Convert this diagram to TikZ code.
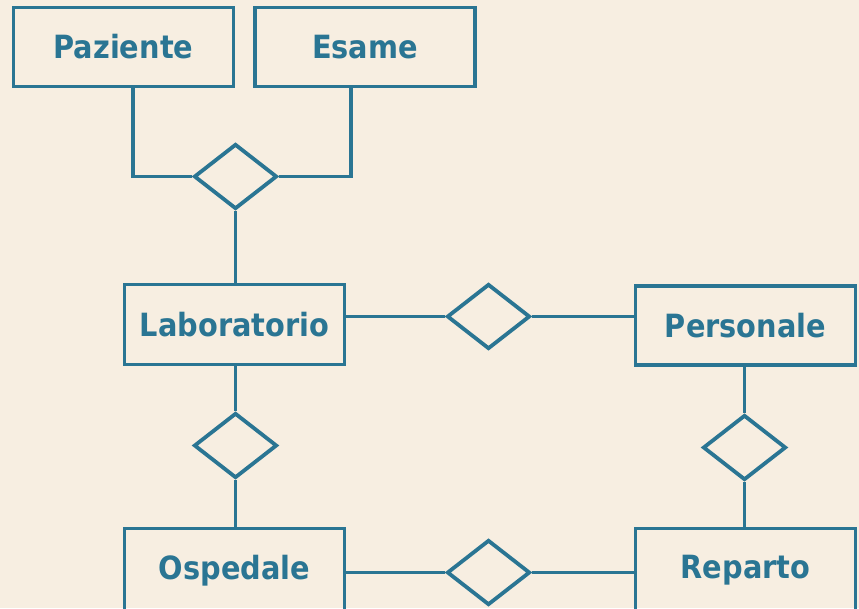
\documentclass[tikz,border=0pt]{standalone}
\usepackage{fontspec}
\setmainfont{DejaVu Sans Condensed}
\usetikzlibrary{shapes.geometric}
\definecolor{bgc}{HTML}{F7EEE1}
\definecolor{erc}{HTML}{2A7593}
\begin{document}
\begin{tikzpicture}[x=1pt,y=-1pt,
  entity/.style={draw=erc,line width=3.8pt,rectangle,minimum width=220pt,minimum height=79pt,
    inner sep=0pt,text=erc,font=\fontsize{32}{38}\selectfont\bfseries},
  rel/.style={draw=erc,line width=3.8pt,diamond,minimum width=83pt,minimum height=65pt,inner sep=0pt},
  conn/.style={draw=erc,line width=3.8pt}]
\fill[bgc] (0,0) rectangle (859,608);
\useasboundingbox (0,0) rectangle (859,608);
\begin{scope}
\clip (0,0) rectangle (859,608);
\node[entity] (paz) at (123.5,47) {Paziente};
\node[entity] (esa) at (365,47) {Esame};
\node[entity,minimum height=80pt] (lab) at (234.5,324.5) {Laboratorio};
\node[entity] (per) at (745.5,325.5) {Personale};
\node[entity,minimum height=84pt] (osp) at (234.5,570.5) {Ospedale};
\node[entity,minimum height=84pt] (rep) at (745.5,570.5) {Reparto};
\node[rel] (d1) at (235.5,176.5) {};
\node[rel] (d2) at (488.5,316.5) {};
\node[rel] (d3) at (235.5,445.5) {};
\node[rel] (d4) at (744.5,447.5) {};
\node[rel] (d5) at (488.5,572.5) {};
\draw[conn] ([xshift=9.5pt]paz.south) |- (d1.west);
\draw[conn] ([xshift=-14pt]esa.south) |- (d1.east);
\draw[conn] (d1.south) -- (d1.south |- lab.north);
\draw[conn] (d2.west) -- (d2.west -| lab.east);
\draw[conn] (d2.east) -- (d2.east -| per.west);
\draw[conn] (d3.north) -- (d3.north |- lab.south);
\draw[conn] (d3.south) -- (d3.south |- osp.north);
\draw[conn] (d4.north) -- (d4.north |- per.south);
\draw[conn] (d4.south) -- (d4.south |- rep.north);
\draw[conn] (d5.west) -- (d5.west -| osp.east);
\draw[conn] (d5.east) -- (d5.east -| rep.west);
\end{scope}
\end{tikzpicture}
\end{document}
